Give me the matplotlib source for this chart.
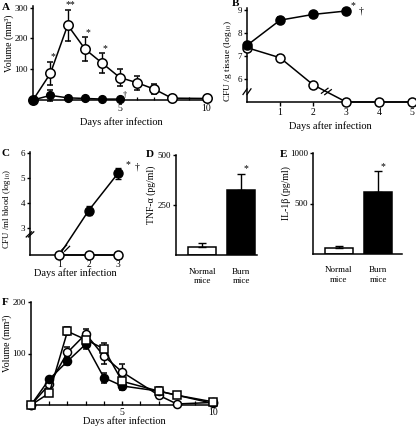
import matplotlib
matplotlib.use("Agg")
import matplotlib.pyplot as plt
import numpy as np

plt.rcParams['font.family'] = ['Liberation Serif', 'DejaVu Serif']
plt.rcParams['mathtext.fontset'] = 'stix'
plt.rcParams['axes.linewidth'] = 1.1
plt.rcParams['xtick.major.width'] = 1.0
plt.rcParams['ytick.major.width'] = 1.0
plt.rcParams['xtick.minor.width'] = 0.9
plt.rcParams['font.size'] = 7

# ---- data ----
# A: footpad volume (mm3)
a_days_open = [0, 1, 2, 3, 4, 5, 6, 7, 8, 10]
a_open = [0, 86, 243, 165, 119, 73, 56, 35, 6, 5]
a_open_err = [0, 38, 50, 38, 32, 29, 22, 17, 9, 3]
a_days_fill = [0, 1, 2, 3, 4, 5]
a_fill = [0, 15, 7, 5, 3, 3]
a_fill_err = [0, 18, 5, 3, 2, 2]

# B: CFU / g tissue (log10)
b_days = [0, 1, 2, 3, 4, 5]
b_open = [7.37, 6.93, 5.75, 5.0, 5.0, 5.0]
b_open_err = [0.08, 0.1, 0.1, 0, 0, 0]
b_days_fill = [0, 1, 2, 3]
b_fill = [7.47, 8.57, 8.82, 8.97]
b_fill_err = [0.1, 0.12, 0.1, 0.1]

# C: CFU / ml blood (log10)
c_days = [1, 2, 3]
c_open = [1.9, 1.9, 1.9]
c_fill = [1.9, 3.69, 5.19]
c_fill_err = [0, 0.18, 0.23]

# D, E: cytokines
groups = ['Normal\nmice', 'Burn\nmice']
tnf = [42, 325]
tnf_err = [16, 80]
il1b = [60, 610]
il1b_err = [20, 210]

# F: volume (mm3), three groups
f_days = [0, 1, 2, 3, 4, 5, 7, 8, 10]
f_open = [0, 40, 102, 138, 95, 64, 19, 2, 5]
f_open_err = [0, 4, 10, 10, 15, 15, 5, 2, 2]
f_square = [0, 23, 143, 127, 109, 46, 27, 19, 6]
f_square_err = [0, 3, 8, 12, 12, 8, 8, 3, 2]
f_days_fill = [0, 1, 2, 3, 4, 5, 7, 10]
f_fill = [0, 50, 85, 118, 53, 37, 27, 3]
f_fill_err = [0, 4, 8, 10, 10, 8, 5, 2]

W, H = 416, 430
fig = plt.figure(figsize=(W / 100, H / 100), dpi=100)


def add_ax(l, t, r, b):
    ax = fig.add_axes([l / W, 1 - b / H, (r - l) / W, (b - t) / H])
    ax.spines['top'].set_visible(False)
    ax.spines['right'].set_visible(False)
    ax.tick_params(length=3, pad=1.5, labelsize=7)
    ax.tick_params(axis='y', length=2.5, pad=1, labelsize=6.5)
    return ax


def series(ax, x, y, err, filled, marker='o', ms=7, **kw):
    ax.errorbar(x, y, yerr=err, fmt='-' + marker, color='black', lw=1.1,
                ms=ms, mfc='black' if filled else 'white', mec='black',
                mew=1.1, capsize=2.5, elinewidth=1.0, capthick=1.0,
                clip_on=False, zorder=3, **kw)


def brk(ax, x, y, dx=0.012, dy=0.03):
    # small "//" break marks, axes coordinates
    for off in (-0.012, 0.012):
        ax.plot([x - dx + off, x + dx + off], [y - dy, y + dy], color='black',
                lw=0.9, transform=ax.transAxes, clip_on=False, zorder=5)


def ylab(ax, s, x, y, size=7):
    ax.set_ylabel(s, fontsize=size)
    ax.yaxis.set_label_coords(x, y)


def letter(px, py, s):
    fig.text(px / W, 1 - py / H, s, fontsize=8, fontweight='bold', va='top', ha='left')


# ---- A ----
ax = add_ax(33, 6, 210, 100)
series(ax, a_days_open, a_open, a_open_err, False, ms=6.8)
series(ax, a_days_fill, a_fill, a_fill_err, True, ms=5.5)
ax.set_xlim(0, 10.2)
ax.set_ylim(0, 305)
ax.set_xticks([5, 10])
ax.set_xticks(range(0, 11), minor=True)
ax.tick_params(axis='x', which='both', direction='in', length=2.5, pad=3)
ax.set_yticks([100, 200, 300])
ylab(ax, 'Volume (mm³)', -0.105, 0.6)
ax.set_xlabel('Days after infection', fontsize=7.5, labelpad=3)
for d, v, e, s in [(1, 86, 38, '*'), (2, 243, 50, '**'), (3, 165, 38, '*'), (4, 119, 32, '*')]:
    ax.text(d + 0.15, v + e + 2, s, fontsize=7, ha='center', va='bottom', clip_on=False)
ax.text(5.3, 3, '†', fontsize=6, ha='center', va='bottom')
letter(2, 3, 'A')

# ---- B ----
ax = add_ax(247, 8, 414, 102)
series(ax, b_days, b_open, b_open_err, False, ms=6.5)
series(ax, b_days_fill, b_fill, b_fill_err, True, ms=6.5)
ax.set_xlim(0, 5.05)
ax.set_ylim(5.0, 9.1)
ax.set_xticks([1, 2, 3, 4, 5])
ax.set_yticks([6, 7, 8, 9])
ylab(ax, 'CFU /g tissue (log$_{10}$)', -0.075, 0.44, size=6.8)
ax.set_xlabel('Days after infection', fontsize=7.5, labelpad=3)
ax.text(3.2, 9.0, '*', fontsize=7, ha='center', va='bottom')
ax.text(3.45, 8.97, '†', fontsize=7, ha='center', va='center')
brk(ax, 0.0, 0.11)
ax.plot([2.25, 2.45], [5.38, 5.6], color='black', lw=0.9, zorder=5)
ax.plot([2.35, 2.55], [5.32, 5.54], color='black', lw=0.9, zorder=5)
letter(232, -1, 'B')

# ---- C ----
ax = add_ax(30, 152, 120, 255)
ax.plot(c_days, c_open, '-o', color='black', lw=1.1, ms=6.5, mfc='white',
        mec='black', mew=1.1, clip_on=False, zorder=4)
ax.errorbar(c_days, c_fill, yerr=c_fill_err, fmt='-o', color='black', lw=1.1,
            ms=6.5, markevery=[1, 2], capsize=2.5, elinewidth=1.0, clip_on=False, zorder=3)
ax.set_xlim(0, 3.07)
ax.set_ylim(1.9, 6.05)
ax.set_xticks([1, 2, 3])
ax.set_yticks([3, 4, 5, 6])
ax.tick_params(axis='x', pad=0.5)
ylab(ax, 'CFU /ml blood (log$_{10}$)', -0.19, 0.45, size=6.3)
ax.set_xlabel('Days after infection', fontsize=7.5, labelpad=-0.5)
ax.text(3.35, 5.35, '*', fontsize=7, ha='center', va='bottom', clip_on=False)
ax.text(3.65, 5.45, '†', fontsize=7, ha='center', va='center', clip_on=False)
brk(ax, 0.0, 0.2, dx=0.03, dy=0.025)
ax.plot([1.08, 1.25], [2.1, 2.3], color='black', lw=0.9, zorder=5)
ax.plot([1.18, 1.35], [2.05, 2.25], color='black', lw=0.9, zorder=5)
letter(2, 149, 'C')

# ---- D ----
ax = add_ax(176, 155, 257, 255)
ax.bar([0, 1], tnf, width=0.72, color=['white', 'black'], edgecolor='black', lw=1.1)
ax.errorbar([0, 1], tnf, yerr=[[0, 0], tnf_err], fmt='none', ecolor='black',
            elinewidth=1.0, capsize=3, capthick=1.0)
ax.set_xlim(-0.67, 1.41)
ax.set_ylim(0, 500)
ax.set_yticks([250, 500])
ax.set_xticks([0, 1])
ax.set_xticklabels(groups, fontsize=6.5)
ax.tick_params(axis='x', length=0, pad=9)
ylab(ax, 'TNF-α (pg/ml)', -0.25, 0.6)
ax.text(1.12, tnf[1] + tnf_err[1] + 3, '*', fontsize=7, ha='center', va='bottom')
letter(146, 150, 'D')

# ---- E ----
ax = add_ax(313, 153, 402, 254)
ax.bar([0, 1], il1b, width=0.7, color=['white', 'black'], edgecolor='black', lw=1.1)
ax.errorbar([0, 1], il1b, yerr=[[0, 0], il1b_err], fmt='none', ecolor='black',
            elinewidth=1.0, capsize=3, capthick=1.0)
ax.set_xlim(-0.65, 1.6)
ax.set_ylim(0, 1000)
ax.set_yticks([500, 1000])
ax.set_xticks([0, 1])
ax.set_xticklabels(groups, fontsize=6.5)
ax.tick_params(axis='x', length=0, pad=9)
ylab(ax, 'IL-1β (pg/ml)', -0.245, 0.6)
ax.text(1.12, il1b[1] + il1b_err[1] + 5, '*', fontsize=7, ha='center', va='bottom')
letter(280, 150, 'E')

# ---- F ----
ax = add_ax(31, 302, 217, 405)
series(ax, f_days, f_open, f_open_err, False, ms=5.8)
series(ax, f_days_fill, f_fill, f_fill_err, True, ms=5.8)
series(ax, f_days, f_square, f_square_err, False, marker='s', ms=5.8)
ax.set_xlim(0, 10.2)
ax.set_ylim(0, 200)
ax.set_xticks([5, 10])
ax.set_xticks(range(0, 11), minor=True)
ax.tick_params(axis='x', which='both', direction='in', length=3, pad=2)
ax.set_yticks([100, 200])
ylab(ax, 'Volume (mm³)', -0.1, 0.6)
ax.set_xlabel('Days after infection', fontsize=7.5, labelpad=0)
letter(2, 298, 'F')

fig.savefig('out.png', dpi=100)
